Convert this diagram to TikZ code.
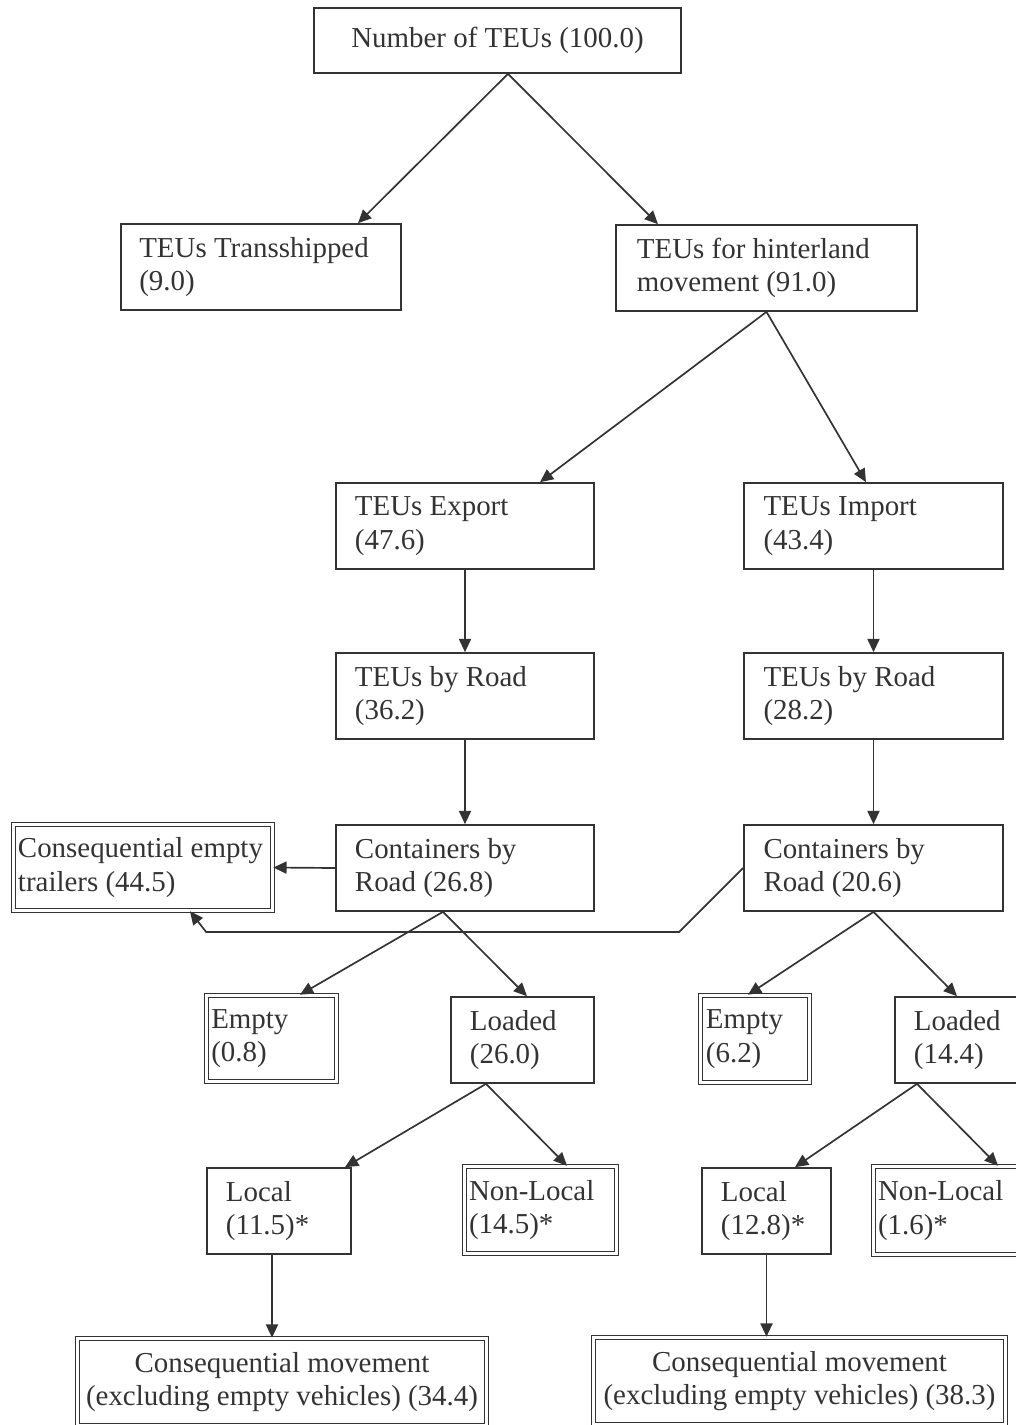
\documentclass[tikz,border=0pt]{standalone}
\usepackage{fontspec}
\setmainfont{Liberation Serif}
\usetikzlibrary{arrows.meta,calc}
\definecolor{ink}{RGB}{51,51,51}
\newcommand{\pxu}{0.415pt}
\tikzset{every picture/.style={line width=0.7pt}}
\tikzset{
  box/.style={draw=ink, text=ink, rectangle, inner sep=0pt, align=flush left, font=\fontsize{12}{14}\selectfont},
  dbox/.style={box, double, double distance=1pt, line width=0.65pt},
  wh/.style 2 args={minimum width=#1*\pxu, minimum height=#2*\pxu},
  arr/.style={draw=ink, line width=0.7pt, -{Triangle[length=5.5pt,width=5pt]}}
}

\begin{document}
\begin{tikzpicture}[x=0.415pt,y=0.415pt,yscale=-1,xscale=1]
	\useasboundingbox (0,0) rectangle (1016,1425);

	%Box: total
	\node[box, wh={367}{65}, align=center] (teu) at (497.5,40.5) {Number of TEUs (100.0)};
	%Box: second row
	\node[box, wh={280}{86}, text width=101pt] (trans) at (261,267) {TEUs Transshipped\\(9.0)};
	\node[box, wh={301}{86}, text width=107.5pt] (hint) at (766.5,268) {TEUs for hinterland\\movement (91.0)};
	%Box: export / import
	\node[box, wh={258}{86}, text width=91.3pt] (exp) at (465,526) {TEUs Export\\(47.6)};
	\node[box, wh={259}{86}, text width=91.3pt] (imp) at (873.5,526) {TEUs Import\\(43.4)};
	\node[box, wh={258}{86}, text width=91.3pt] (rdexp) at (465,696) {TEUs by Road\\(36.2)};
	\node[box, wh={259}{86}, text width=91.3pt] (rdimp) at (873.5,696) {TEUs by Road\\(28.2)};
	\node[box, wh={258}{86}, text width=91.3pt] (crexp) at (465,868) {Containers by\\Road (26.8)};
	\node[box, wh={259}{86}, text width=91.3pt] (crimp) at (873.5,868) {Containers by\\Road (20.6)};
	%Box: empty trailers
	\node[dbox, wh={259}{86}, text width=103.75pt] (trail) at (143,867.5) {Consequential empty\\trailers (44.5)};
	%Box: empty / loaded
	\node[dbox, wh={130}{86}, text width=50pt] (emexp) at (271.5,1038.5) {Empty\\(0.8)};
	\node[box, wh={143}{86}, text width=43.6pt] (ldexp) at (522.5,1040) {Loaded\\(26.0)};
	\node[dbox, wh={109}{87}, text width=40.7pt] (emimp) at (755,1039) {Empty\\(6.2)};
	\node[box, wh={143}{86}, text width=43.6pt] (ldimp) at (966.5,1040) {Loaded\\(14.4)};
	%Box: local / non-local
	\node[box, wh={144}{86}, text width=44pt] (lcexp) at (279,1211) {Local\\(11.5)*};
	\node[dbox, wh={152}{87}, text width=59.3pt] (nlexp) at (540.5,1210) {Non-Local\\(14.5)*};
	\node[box, wh={129}{86}, text width=37.8pt] (lcimp) at (766.5,1211) {Local\\(12.8)*};
	\node[dbox, wh={152}{88}, text width=59.3pt] (nlimp) at (949.5,1210.5) {Non-Local\\(1.6)*};
	%Box: consequential movement
	\node[dbox, wh={409}{87}, align=center] (cmexp) at (282,1382) {Consequential movement\\(excluding empty vehicles) (34.4)};
	\node[dbox, wh={412}{87}, align=center] (cmimp) at (799.5,1381) {Consequential movement\\(excluding empty vehicles) (38.3)};

	%Arrows
	\draw[arr] ($(teu.south)+(10.5,0)$) -- ($(trans.north)+(97,0)$);
	\draw[arr] ($(teu.south)+(10.5,0)$) -- ($(hint.north)+(-108.5,0)$);
	\draw[arr] (hint.south) -- ($(exp.north)+(75,0)$);
	\draw[arr] (hint.south) -- ($(imp.north)+(-7.5,0)$);
	\draw[arr] (exp) -- (rdexp);
	\draw[arr] (imp) -- (rdimp);
	\draw[arr] (rdexp) -- (crexp);
	\draw[arr] (rdimp) -- (crimp);
	\draw[arr] (crexp.west) -- (trail.east);
	\draw[arr] (crimp.west) -- ++(-64,64) -- ++(-473,0) -- ($(trail.south)+(47,0)$);
	\draw[arr] ($(crexp.south)+(-22,0)$) -- ($(emexp.north)+(28.5,0)$);
	\draw[arr] ($(crexp.south)+(-22,0)$) -- ($(ldexp.north)+(4.5,0)$);
	\draw[arr] (crimp.south) -- ($(emimp.north)+(-7,0)$);
	\draw[arr] (crimp.south) -- ($(ldimp.north)+(-9.5,0)$);
	\draw[arr] ($(ldexp.south)+(-36.5,0)$) -- ($(lcexp.north)+(66,0)$);
	\draw[arr] ($(ldexp.south)+(-36.5,0)$) -- ($(nlexp.north)+(26.5,0)$);
	\draw[arr] ($(ldimp.south)+(-49.5,0)$) -- ($(lcimp.north)+(28.5,0)$);
	\draw[arr] ($(ldimp.south)+(-49.5,0)$) -- ($(nlimp.north)+(48.5,0)$);
	\draw[arr] ($(lcexp.south)+(-7,0)$) coordinate (p) -- (p |- cmexp.north);
	\draw[arr] (lcimp.south) -- (lcimp.south |- cmimp.north);

\end{tikzpicture}
\end{document}
